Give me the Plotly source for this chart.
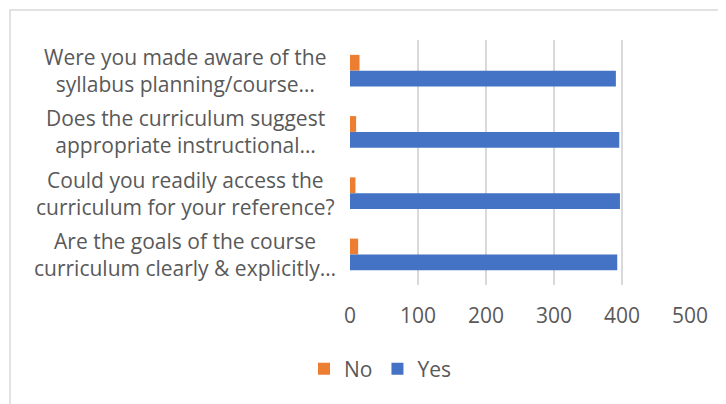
import plotly.graph_objects as go

categories = [
    "Were you made aware of the<br>syllabus planning/course…",
    "Does the curriculum suggest<br>appropriate instructional…",
    "Could you readily access the<br>curriculum for your reference?",
    "Are the goals of the course<br>curriculum clearly & explicitly…",
]
no_values = [14, 9, 8, 12]
yes_values = [391, 396, 397, 393]
x_ticks = [0, 100, 200, 300, 400, 500]

FONT = "Open Sans"
TXT = "#595959"
FS = 21

fig = go.Figure()
fig.add_trace(go.Bar(y=categories, x=no_values, name="No", orientation="h",
                     marker=dict(color="#ED7D31", line=dict(width=0))))
fig.add_trace(go.Bar(y=categories, x=yes_values, name="Yes", orientation="h",
                     marker=dict(color="#4472C4", line=dict(width=0))))

# page body has an 8px default margin; work in screen pixels and shift
OFF = 8
W, H = 726, 404
plot_left, plot_right, plot_top, plot_bottom = 350, 690, 40, 285
ml = plot_left - OFF
mt = plot_top - OFF
mr = W - (plot_right - OFF)
mb = H - (plot_bottom - OFF)
pw, ph = W - ml - mr, H - mt - mb

def px2x(px):
    return (px - OFF - ml) / pw

def py2y(py):
    return (H - mb - (py - OFF)) / ph

annotations = []
for c in categories:
    annotations.append(dict(
        x=px2x(185), xref="paper", y=c, yref="y", text=c, showarrow=False,
        xanchor="center", yanchor="middle", align="center",
        font=dict(family=FONT, size=FS, color=TXT)))

fig.update_layout(
    width=W, height=H,
    margin=dict(l=ml, r=mr, t=mt, b=mb, pad=0, autoexpand=False),
    paper_bgcolor="white", plot_bgcolor="white",
    barmode="group", bargap=0.485, bargroupgap=0,
    font=dict(family=FONT, size=FS, color=TXT),
    xaxis=dict(range=[0, 500], tickvals=x_ticks, showgrid=True,
               gridcolor="#d9d9d9", gridwidth=1.5, zeroline=False,
               showline=False, ticks="", ticklabelstandoff=16,
               tickfont=dict(family=FONT, size=FS, color=TXT)),
    yaxis=dict(autorange="reversed", showticklabels=False, showgrid=False,
               zeroline=False, showline=False, ticks=""),
    showlegend=True,
    legend=dict(orientation="h", x=px2x(380), xanchor="center",
                y=py2y(369), yanchor="middle",
                font=dict(family=FONT, size=FS, color=TXT),
                itemwidth=30, traceorder="normal"),
    annotations=annotations,
    shapes=[dict(type="rect", xref="paper", yref="paper",
                 x0=px2x(10), x1=px2x(760), y0=py2y(440), y1=py2y(10),
                 line=dict(color="#d9d9d9", width=1.5), fillcolor="rgba(0,0,0,0)",
                 layer="below")],
)

fig.write_html("out.html")
